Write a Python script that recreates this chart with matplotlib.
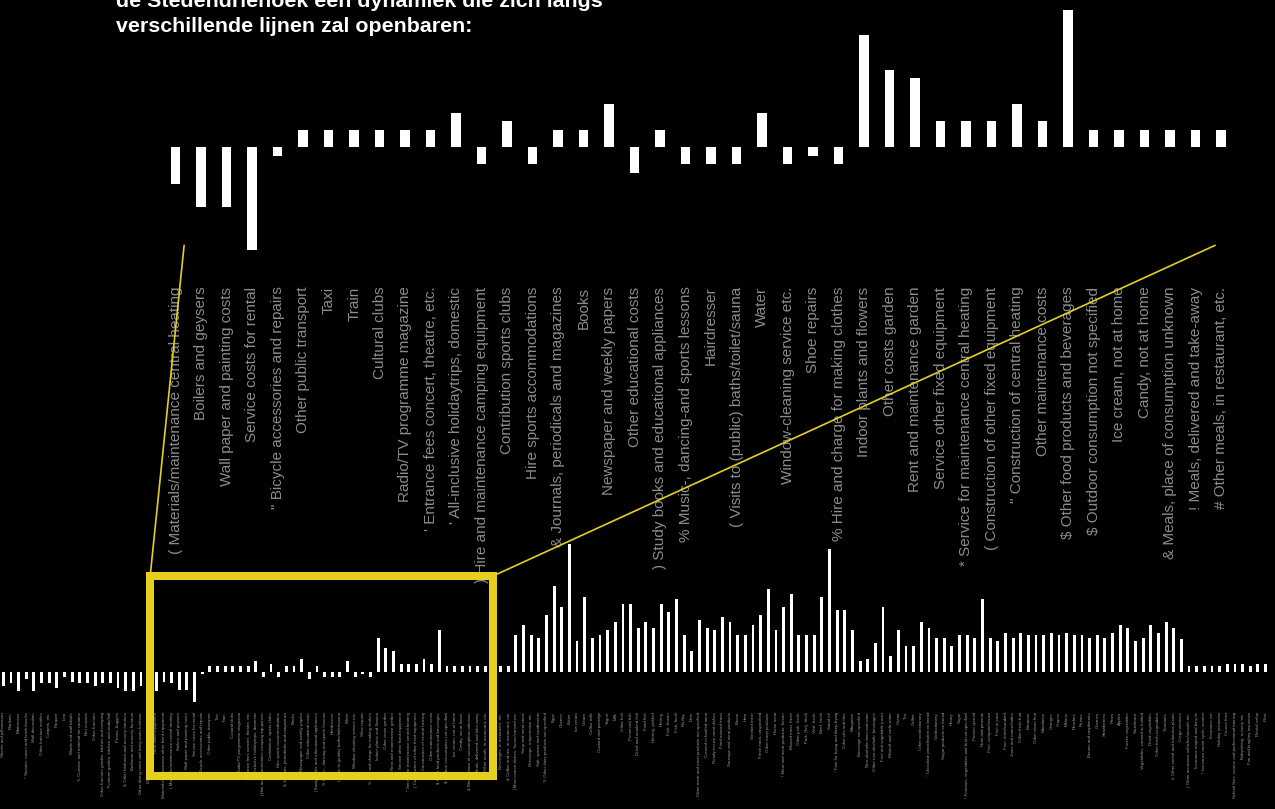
import matplotlib.pyplot as plt
from matplotlib.patches import Rectangle, ConnectionPatch

# title
title_1 = "de Stedendriehoek een dynamiek die zich langs"
title_2 = "verschillende lijnen zal openbaren:"

# furnishing (all negative)
furnish_labels = ["Sheets and pillowcases", "Blankets", "Mattresses",
                  "* Statues, vases and knick-knacks", "Wall decoration",
                  "Other furniture textiles", "Carpets, etc.", "Parquet", "Lino",
                  "Blinds and wall blinds", "% Curtains and material for curtains",
                  "Net curtains", "Other furniture",
                  "Other furniture garden, kitchen and camping",
                  ", Furniture garden, kitchen and study/hall", "Prams, buggies",
                  "& Other bedroom and nursery furniture",
                  "Bedroom and nursery furniture",
                  ", Other dining room and living room furniture",
                  "Dining room and living room furniture", "Rent fixed equipment",
                  "Materials/maintenance other fixed equipment"]
furnish_vals = [-5.5, -4.5, -7.5, -3, -7.5, -4.5, -4.5, -6.5, -2, -4, -4.5, -4.5,
                -5.5, -4.5, -4.5, -6.5, -7.5, -7.5, -5.5, -5.5, -7.5, -4]

# the part that is shown enlarged
zoom_labels = ["( Materials/maintenance central heating", "Boilers and geysers",
               "Wall paper and painting costs", "Service costs for rental",
               "\" Bicycle accessories and repairs", "Other public transport",
               "Taxi", "Train", "Cultural clubs", "Radio/TV programme magazine",
               "' Entrance fees concert, theatre, etc.",
               "' All-inclusive holidaytrips, domestic",
               ") Hire and maintenance camping equipment",
               "Contribution sports clubs", "Hire sports accommodations",
               "& Journals, periodicals and magazines", "Books",
               "Newspaper and weekly papers", "Other educational costs",
               ") Study books and educational appliances",
               "% Music-, dancing-and sports lessons", "Hairdresser",
               "( Visits to (public) baths/toilet/sauna", "Water",
               "Window-cleaning service etc.", "Shoe repairs",
               "% Hire and charge for making clothes", "Indoor plants and flowers",
               "Other costs garden", "Rent and maintenance garden",
               "Service other fixed equipment",
               "* Service for maintenance central heating",
               "( Construction of other fixed equipment",
               "\" Construction of central heating", "Other maintenance costs",
               "$ Other food products and beverages",
               "$ Outdoor consumption not specified", "Ice cream, not at home",
               "Candy, not at home", "& Meals, place of consumption unknown",
               "! Meals, delivered and take-away", "# Other meals, in restaurant, etc."]
zoom_vals = [-4.3, -7, -7, -12, -1, 2, 2, 2, 2, 2, 2, 4, -2, 3, -2, 2, 2, 5, -3, 2,
             -2, -2, -2, 4, -2, -1, -2, 13, 9, 8, 3, 3, 3, 5, 3, 16, 2, 2, 2, 2, 2, 2]

# food and drinks
food_labels = ["# French fries, in restaurant, etc.", "Beverages, in restaurant, etc.",
               "& Coffee and tea, in restaurant, etc.",
               ") Main course dishes, frozen/canned etc.", "Soup and meat stock",
               "Dressings, mayonnaise etc.", "Salt, spices and condiments",
               "% Other dairy products not specified", "Eggs", "Cheese", "Butter",
               "Ice cream", "Cream", "Coffee milk", "Custard and porridge", "Yogurt",
               "Milk", "Other fish", "Preserved fish", "Dried and smoked fish",
               "Fried fish", "Herring, pickled", "Herring", "Fish, frozen",
               "Fish, fresh", "Poultry", "Deer",
               "- Other meat and meat products not specified",
               "Canned or bottled meat", "Ready-to-use meat dishes",
               "Fried minced meat", "Sausage and meat products", "Bacon", "Ham",
               "Smoked meat", "Fresh meat, unspecified", "Other meat products",
               "Horse meat", "! Meat and meat products, frozen", "Minced meat, fresh",
               "Other pork, fresh", "Pork, (fat), fresh", "Veal, fresh", "Beef, fresh",
               "Salad oil", "\" Fats for frying and deep frying", "Other oils and fats",
               "Margarine", "Beverage not specified", "Non-alcoholic beer and wine",
               "Other non-alcoholic beverages", "Fruit and vegetable juices",
               "Mineral and soda water", "Cacao", "Tea", "Coffee",
               "Other confectionery", "\" Chocolate paste/butter on bread",
               "Confectionery", "Sugar products on bread", "Honey", "Sugar",
               "! Potatoes, vegetables and fruit not specified", "Peanut spread",
               "Nuts and peanuts", "Fruit, compote/sauce", "Fruit in juice",
               "Fruit, dried/candied", "Jams and marmalades", "Other fresh fruit",
               "Bananas", "Other citrus fruit", "Mandarins", "Oranges", "Grapes",
               "Melons", "Peaches", "Prunes", "Berries and raspberries", "Cherries",
               "Strawberries", "Pears", "Apples", "Frozen vegetables", "Sauerkraut",
               "Vegetables, canned or bottled", "Dried vegetables",
               "Other fresh vegetables", "Tomatoes",
               "# Other cereal and tuberous plants"]
food_vals = [2, 2, 2, 14, 18, 14, 13, 22, 33, 25, 49.5, 12, 29, 13, 14, 16, 19,
             26, 26, 17, 19, 17, 26, 23, 28, 14, 8, 20, 17, 16, 21, 19, 14, 14, 18,
             22, 32, 16, 25, 30, 14, 14, 14, 29, 47.5, 24, 24, 16, 4, 5, 11, 25, 6,
             16, 10, 10, 19, 17, 13, 13, 10, 14, 14, 13, 28, 13, 12, 15, 13, 15, 14,
             14, 14, 15, 14, 15, 14, 14, 13, 14, 13, 15, 18, 17, 12, 13, 18, 15, 19, 17]

# services, insurance, rent
service_labels = ["Cargo services", "( Other insurance vehicles/vessels etc.",
                  "Insurance moped and bicycle", "! Insurance motor cycle, scooter",
                  "Insurance car", "Holiday insurance", "Course fees",
                  "School fees, course and professional training",
                  "Babysitting, nursery etc.", "Fire and burglary insurance",
                  "Rental value", "Rent"]
service_vals = [12.5, 2, 2, 2, 2, 2, 3, 3, 3, 2, 3, 3]

labels = furnish_labels + zoom_labels + food_labels + service_labels
values = furnish_vals + zoom_vals + food_vals + service_vals
x = list(range(len(labels)))
z0 = len(furnish_labels)
z1 = z0 + len(zoom_labels) - 1

W, H = 1275, 809
yellow = '#e6cf1e'
fig = plt.figure(figsize=(W / 100, H / 100), dpi=100, facecolor='black')

# enlarged part (top)
ax_in = fig.add_axes([162.95 / W, (661.7 - 14 * 8.6) / H, 42 * 25.5 / W, 32 * 8.6 / H])
ax_in.set_facecolor('none')
ax_in.bar(x[z0:z1 + 1], values[z0:z1 + 1], width=0.37, color='white', linewidth=0)
ax_in.set_xlim(z0 - 0.5, z1 + 0.5)
ax_in.set_ylim(-14, 18)
ax_in.axis('off')
for i in range(z0, z1 + 1):
    ax_in.text(i, -16.2, labels[i], rotation=90, rotation_mode='anchor',
               ha='right', va='center', fontsize=11, color='#8c8c8c',
               family='Liberation Sans')

# full chart (bottom)
ax = fig.add_axes([-0.525 / W, (137.5 - 55 * 2.58) / H, 166 * 7.65 / W, 110 * 2.58 / H])
ax.set_facecolor('none')
ax.bar(x, values, width=0.37, color='white', linewidth=0)
ax.set_xlim(-0.5, len(x) - 0.5)
ax.set_ylim(-55, 55)
ax.axis('off')
for i, lab in enumerate(labels):
    ax.text(i, -15.7, lab, rotation=90, rotation_mode='anchor', ha='right',
            va='center', fontsize=3.2, color='#9a9a9a', family='Liberation Sans')

# yellow frame + connectors
bx0, bx1 = z0 - 2.8, z1 + 1.0
by0, by1 = -40.5, 37
ax.add_patch(Rectangle((bx0, by0), bx1 - bx0, by1 - by0, fill=False,
                       edgecolor=yellow, linewidth=5.8, zorder=10, clip_on=False))
for xa, xb in [(z0 + 0.33, bx0), (z1 - 0.24, bx1)]:
    con = ConnectionPatch(xyA=(xa, -11.4), coordsA=ax_in.transData,
                          xyB=(xb, by1), coordsB=ax.transData,
                          color=yellow, linewidth=1.2)
    fig.add_artist(con)

fig.text(116 / W, 1 - 7 / H, title_1, color='white', fontsize=15.4,
         fontweight='bold', va='baseline', family='Liberation Sans')
fig.text(116 / W, 1 - 32 / H, title_2, color='white', fontsize=15.4,
         fontweight='bold', va='baseline', family='Liberation Sans')

plt.savefig('out.png', dpi=100, facecolor='black')
